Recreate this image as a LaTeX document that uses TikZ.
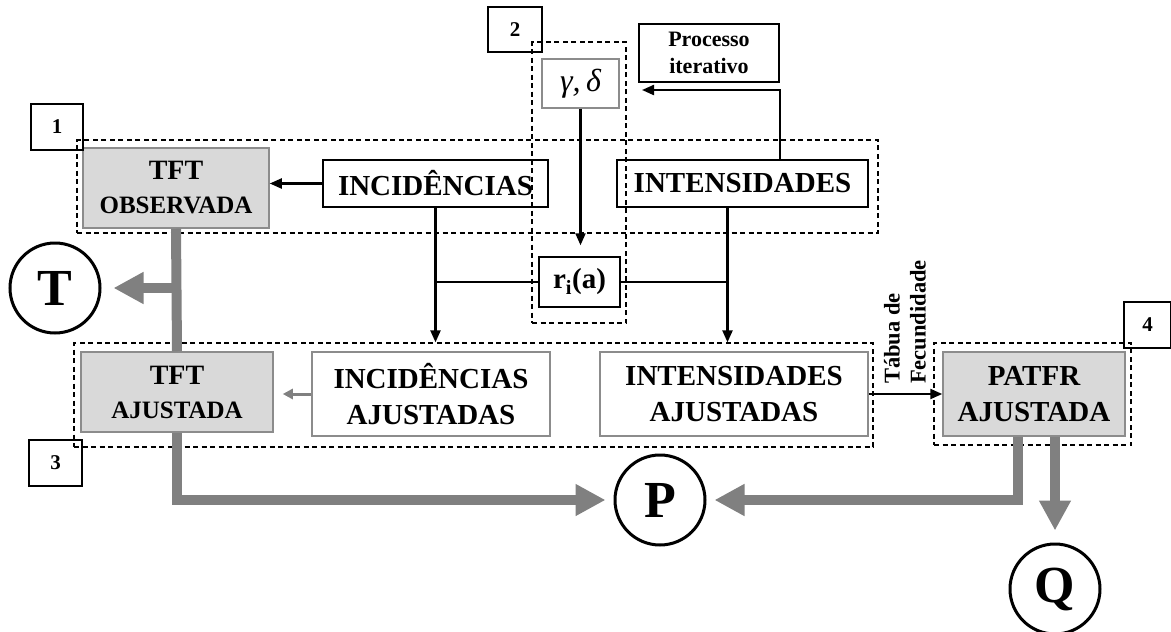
\documentclass[tikz,border=0pt]{standalone}
\usepackage{fontspec}
\setmainfont{Liberation Serif}
\usetikzlibrary{arrows.meta}
\definecolor{boxfill}{HTML}{D9D9D9}
\definecolor{boxline}{HTML}{8C8C8C}
\definecolor{flowgray}{HTML}{808080}
\newcommand{\boxfont}{\bfseries\fontsize{29}{36}\selectfont}
\newcommand{\tftfont}{\bfseries\fontsize{25}{34}\selectfont}

\begin{document}
\begin{tikzpicture}[x=1pt, y=-1pt,
        stagebox/.style={draw, line width=1.5pt, fill=white, inner sep=0pt, align=center, font=\boxfont},
        adjbox/.style={stagebox, draw=boxline},
        tftbox/.style={adjbox, fill=boxfill, font=\tftfont},
        numbox/.style={draw, line width=1.5pt, fill=white, inner sep=0pt, font=\bfseries\fontsize{21}{24}\selectfont},
        group/.style={draw, dash pattern=on 5pt off 3.5pt, line width=1.3pt, inner sep=0pt},
        result/.style={circle, draw, line width=3pt, inner sep=0pt, minimum size=90pt, font=\bfseries\fontsize{52}{60}\selectfont},
        link/.style={line width=2.2pt, -{Triangle[width=10pt,length=12pt]}},
        adjlink/.style={draw=flowgray, line width=3pt, -{Triangle[width=10pt,length=10pt]}},
        bigflow/.style={draw=flowgray, line width=10pt, -{Triangle[width=30pt,length=30pt]}}]

        \useasboundingbox (0,0) rectangle (1171,632);

        % observed data
        \node (tftobs) [tftbox, minimum width=186pt, minimum height=80pt] at (176,188) {{\fontsize{28}{34}\selectfont TFT}\\OBSERVADA};
        \node (inc) [stagebox, minimum width=225pt, minimum height=47pt] at (435.5,183.5) {INCIDÊNCIAS};
        \node (intens) [stagebox, minimum width=251pt, minimum height=47pt] at (742.5,183.5) {INTENSIDADES};
        \node (gd) [adjbox, font=\itshape\fontsize{32}{36}\selectfont, minimum width=77pt, minimum height=49pt] at (580.5,83.5) {γ,\,δ};
        \node (proc) [stagebox, font=\bfseries\fontsize{22}{27}\selectfont, minimum width=140pt, minimum height=58pt] at (709,53) {Processo\\iterativo};
        \node (ri) [stagebox, minimum width=81pt, minimum height=50pt] at (579.5,282) {r\textsubscript{i}(a)};

        % adjusted data
        \node (tftaj) [tftbox, minimum width=192pt, minimum height=80pt] at (177,392) {{\fontsize{28}{34}\selectfont TFT}\\AJUSTADA};
        \node (incaj) [adjbox, minimum width=238pt, minimum height=84pt] at (431,394) {INCIDÊNCIAS\\AJUSTADAS};
        \node (intaj) [adjbox, minimum width=268pt, minimum height=84pt] at (734,394) {INTENSIDADES\\AJUSTADAS};
        \node (patfr) [adjbox, fill=boxfill, minimum width=182pt, minimum height=84pt] at (1034,394) {PATFR\\AJUSTADA};

        \node (T) [result] at (55,288) {T};
        \node (P) [result] at (660,500) {P};
        \node (Q) [result] at (1055,589) {Q};

        \node (num1) [numbox, minimum width=52pt, minimum height=46pt] at (57,127) {1};
        \node (num2) [numbox, minimum width=54pt, minimum height=45pt] at (515,29.5) {2};
        \node (num3) [numbox, minimum width=53pt, minimum height=46pt] at (55.5,463) {3};
        \node (num4) [numbox, minimum width=47pt, minimum height=46pt] at (1147.5,325) {4};

        \node (grp1) [group, minimum width=801pt, minimum height=93pt] at (477.5,186.5) {};
        \node (grp2) [group, minimum width=94pt, minimum height=281pt] at (579,182.5) {};
        \node (grp3) [group, minimum width=799pt, minimum height=104pt] at (473.5,395) {};
        \node (grp4) [group, minimum width=197pt, minimum height=102pt] at (1032.5,394) {};

        \coordinate (intdrop) at ([xshift=-15pt]intens.south);
        \coordinate (itend) at (642,90);
        \coordinate (tjoin) at (tftobs.south |- T);
        \coordinate (pdrop) at ([xshift=-16pt]patfr.south);

        \draw[link] (inc.west) -- (inc.west -| tftobs.east);
        \draw[link] (inc.south) -- (inc.south |- grp3.north);
        \draw[link] (intdrop) -- (intdrop |- grp3.north);
        \draw[line width=2.2pt] (inc.south |- ri.west) -- (ri.west) (ri.east) -- (intdrop |- ri.east);
        \draw[link, shorten >=11pt] (gd.south) -- (gd.south |- ri.north);
        \draw[link] (intens.north -| proc.east) |- (itend);
        \draw[link] (intaj.east) -- (patfr.west);
        \node (tabua) [rotate=90, anchor=west, align=left, inner sep=0pt, font=\bfseries\fontsize{22.5}{26}\selectfont] at (905,384) {Tábua de\\Fecundidade};
        \draw[adjlink, shorten >=9pt] (incaj.west) -- (incaj.west -| tftaj.east);

        \draw[bigflow, -] (tftobs.south) -- (tftaj.north);
        \draw[bigflow, shorten >=12pt] (tjoin) -- (T);
        \draw[bigflow, shorten >=8pt] (tftaj.south) |- (P);
        \draw[bigflow, shorten >=8pt] (pdrop) |- (P);
        \draw[bigflow, shorten >=12pt] (Q.north |- patfr.south) -- (Q);
    \end{tikzpicture}
\end{document}
